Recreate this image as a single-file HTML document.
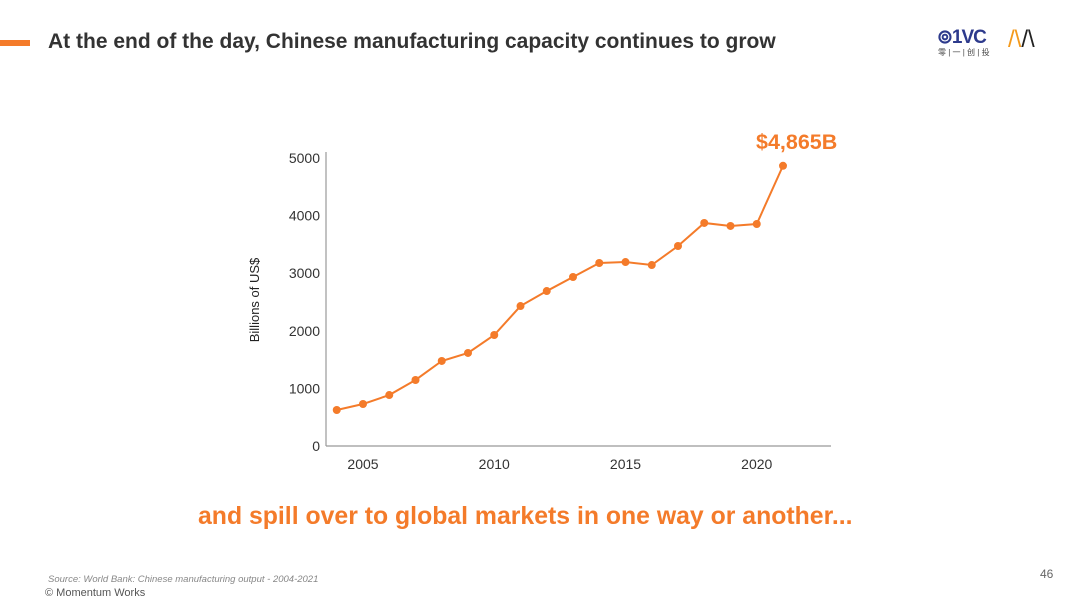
<!DOCTYPE html>
<html><head><meta charset="utf-8"><style>
body{margin:0;width:1080px;height:608px;background:#fff;overflow:hidden;font-family:"Liberation Sans",sans-serif;position:relative}
.abs{position:absolute}
</style></head><body>
<div class="abs" style="left:0;top:40px;width:30px;height:6px;background:#f47b2a"></div>
<div class="abs" style="left:48px;top:30px;font-size:21px;font-weight:bold;color:#333;white-space:nowrap">At the end of the day, Chinese manufacturing capacity continues to grow</div>
<div class="abs" style="left:937px;top:26px;font-size:19px;font-weight:bold;color:#2d3a8c;letter-spacing:-1px">⊚1VC</div>
<div class="abs" style="left:938px;top:47px;font-size:8px;color:#444;font-family:'Liberation Sans','Noto Sans CJK SC',sans-serif">零 | 一 | 创 | 投</div>
<div class="abs" style="left:1008px;top:26px;font-size:24px;color:#222"><span style="color:#f49a1c">/\</span>/\</div>
<svg class="abs" style="left:0;top:0" width="1080" height="608">
<g id="g"></g>
</svg>
<div class="abs" style="left:756px;top:130px;font-size:21.5px;font-weight:bold;color:#f47b2a">$4,865B</div>
<div class="abs" style="left:198px;top:503px;font-size:24.8px;font-weight:bold;color:#f47b2a;white-space:nowrap">and spill over to global markets in one way or another...</div>
<div class="abs" style="left:48px;top:574px;font-size:9.5px;font-style:italic;color:#888">Source: World Bank: Chinese manufacturing output - 2004-2021</div>
<div class="abs" style="left:45px;top:587px;font-size:11px;color:#555">© Momentum Works</div>
<div class="abs" style="left:1040px;top:567px;font-size:12px;color:#666">46</div>
<script>
const years=[2004,2005,2006,2007,2008,2009,2010,2011,2012,2013,2014,2015,2016,2017,2018,2019,2020,2021];
const values=[625,729,885,1146,1476,1615,1927,2430,2690,2934,3177,3194,3142,3472,3872,3820,3854,4865];
const yTicks=[0,1000,2000,3000,4000,5000];
const xTicks=[2005,2010,2015,2020];
const X=v=>363+(v-2005)*26.25;
const Y=v=>446-v*0.0576;
const NS="http://www.w3.org/2000/svg";
const g=document.getElementById('g');
function mk(t,a){const e=document.createElementNS(NS,t);for(const k in a)e.setAttribute(k,a[k]);g.appendChild(e);return e;}
let e=mk('line',{x1:326,y1:152,x2:326,y2:446,stroke:'#999','stroke-width':1.2});


e=mk('line',{x1:326,y1:446,x2:831,y2:446,stroke:'#999','stroke-width':1.2});


yTicks.forEach(v=>{const t=mk('text',{x:320,y:Y(v)+5,'text-anchor':'end','font-size':14,fill:'#333','font-family':'Liberation Sans'});t.textContent=v;

});
xTicks.forEach(v=>{const t=mk('text',{x:X(v),y:469,'text-anchor':'middle','font-size':14,fill:'#333','font-family':'Liberation Sans'});t.textContent=v;

});
const yt=mk('text',{x:0,y:0,transform:'translate(259,300) rotate(-90)','text-anchor':'middle','font-size':13,fill:'#222','font-family':'Liberation Sans'});yt.textContent='Billions of US$';


const p=mk('polyline',{points:years.map((y,i)=>X(y)+','+Y(values[i])).join(' '),fill:'none',stroke:'#f47b2a','stroke-width':2});


years.forEach((y,i)=>{const c=mk('circle',{cx:X(y),cy:Y(values[i]),r:4,fill:'#f47b2a'});

});
</script>
</body></html>
